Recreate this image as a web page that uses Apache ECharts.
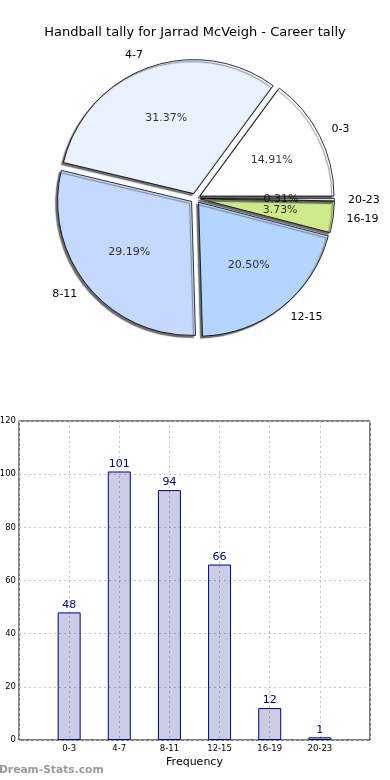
<!DOCTYPE html>
<html>
<head>
<meta charset="utf-8">
<script src="https://cdn.jsdelivr.net/npm/echarts@6/dist/echarts.min.js"></script>
<style>
html,body{margin:0;padding:0;background:#fff;}
#chart{width:390px;height:780px;}
</style>
</head>
<body>
<div id="chart"></div>
<script>
const titleText = 'Handball tally for Jarrad McVeigh - Career tally';
const categories = ['0-3', '4-7', '8-11', '12-15', '16-19', '20-23'];
const tally = [48, 101, 94, 66, 12, 1];
const yTicks = [0, 20, 40, 60, 80, 100, 120];
const xAxisName = 'Frequency';
const watermark = 'Dream-Stats.com';

const sliceColors = ['#ffffff', '#eaf2ff', '#c5d9ff', '#b4d5ff', '#cfea8a', '#f4f4f4'];
const FONT = 'DejaVu Sans';
const total = tally.reduce((a, b) => a + b, 0);
const R = 134;
const EXPLODE = 5;
const CENTER = [195.5, 198.3];

const chart = echarts.init(document.getElementById('chart'), null, {renderer: 'canvas'});

const pieData = categories.map((c, i) => ({
  name: c, value: tally[i], selected: true,
  itemStyle: {color: sliceColors[i]}
}));

// percentage labels placed in a polar system at 0.6 R along each slice's mid angle
let cum = 0;
const pctPoints = tally.map((v) => {
  const mid = (cum + v / 2) / total * 360;
  cum += v;
  return {value: [0.6 * R + EXPLODE, mid], pct: (v / total * 100).toFixed(2) + '%'};
});

const option = {
  animation: false,
  title: {
    text: titleText, left: 'center', top: 21,
    textStyle: {fontFamily: FONT, fontSize: 13, fontWeight: 'normal', color: '#000'}
  },
  polar: {center: CENTER, radius: R},
  angleAxis: {type: 'value', min: 0, max: 360, startAngle: 0, clockwise: false, show: false},
  radiusAxis: {type: 'value', min: 0, max: R, show: false},
  grid: {
    left: 19, right: 20, top: 421, bottom: 40,
    outerBoundsMode: 'none', containLabel: false,
    show: true, borderColor: '#000', borderWidth: 1, backgroundColor: 'transparent'
  },
  xAxis: {
    type: 'value', min: -1, max: 6, interval: 1,
    name: xAxisName, nameLocation: 'middle', nameGap: 17,
    nameTextStyle: {fontFamily: FONT, fontSize: 11, color: '#000'},
    axisLine: {show: false}, axisTick: {show: false},
    axisLabel: {
      fontFamily: FONT, fontSize: 8.5, color: '#000', margin: 4,
      showMinLabel: false, showMaxLabel: false,
      formatter: v => (v >= 0 && v < categories.length) ? categories[v] : ''
    },
    splitLine: {show: true, lineStyle: {color: '#c4c4c4', type: [2, 3], width: 1}}
  },
  yAxis: {
    type: 'value', min: yTicks[0], max: yTicks[yTicks.length - 1], interval: 20,
    axisLine: {show: false}, axisTick: {show: false},
    axisLabel: {fontFamily: FONT, fontSize: 8.5, color: '#000', margin: 3},
    splitLine: {show: true, lineStyle: {color: '#c4c4c4', type: [2, 3], width: 1}}
  },
  graphic: [{
    type: 'text', left: -1, top: 765,
    style: {text: watermark, fontFamily: FONT, fontSize: 10.7, fontWeight: 'bold', fill: '#9a9a9a'}
  }],
  series: [
    {
      type: 'pie',
      center: CENTER,
      radius: [0, R],
      startAngle: 0, clockwise: false,
      selectedMode: 'multiple', selectedOffset: EXPLODE,
      avoidLabelOverlap: false,
      silent: true,
      itemStyle: {
        borderColor: '#000', borderWidth: 0.8,
        shadowColor: 'rgba(80,80,80,0.85)', shadowBlur: 1, shadowOffsetX: -2, shadowOffsetY: 2
      },
      label: {
        show: true, position: 'outside', distanceToLabelLine: 0,
        fontFamily: FONT, fontSize: 11, color: '#000',
        formatter: '{b}'
      },
      labelLine: {show: false, length: R * 0.1, length2: 0},
      emphasis: {disabled: true},
      data: pieData
    },
    {
      type: 'scatter',
      coordinateSystem: 'polar',
      symbolSize: 1,
      itemStyle: {color: 'transparent'},
      silent: true,
      label: {
        show: true, position: 'inside',
        fontFamily: FONT, fontSize: 11, color: '#000',
        textBorderWidth: 0, textBorderColor: 'transparent',
        formatter: p => p.data.pct
      },
      labelLayout: {hideOverlap: false},
      emphasis: {disabled: true},
      data: pctPoints,
      z: 5
    },
    {
      type: 'bar',
      data: tally.map((v, i) => [i, v]),
      barWidth: 23,
      itemStyle: {color: 'rgba(0,0,128,0.2)', borderColor: '#000080', borderWidth: 1},
      label: {
        show: true, position: 'top', distance: 2,
        fontFamily: FONT, fontSize: 11, color: '#000080',
        formatter: p => String(p.value[1])
      },
      emphasis: {disabled: true},
      z: 2
    }
  ]
};
chart.setOption(option);
</script>
</body>
</html>
